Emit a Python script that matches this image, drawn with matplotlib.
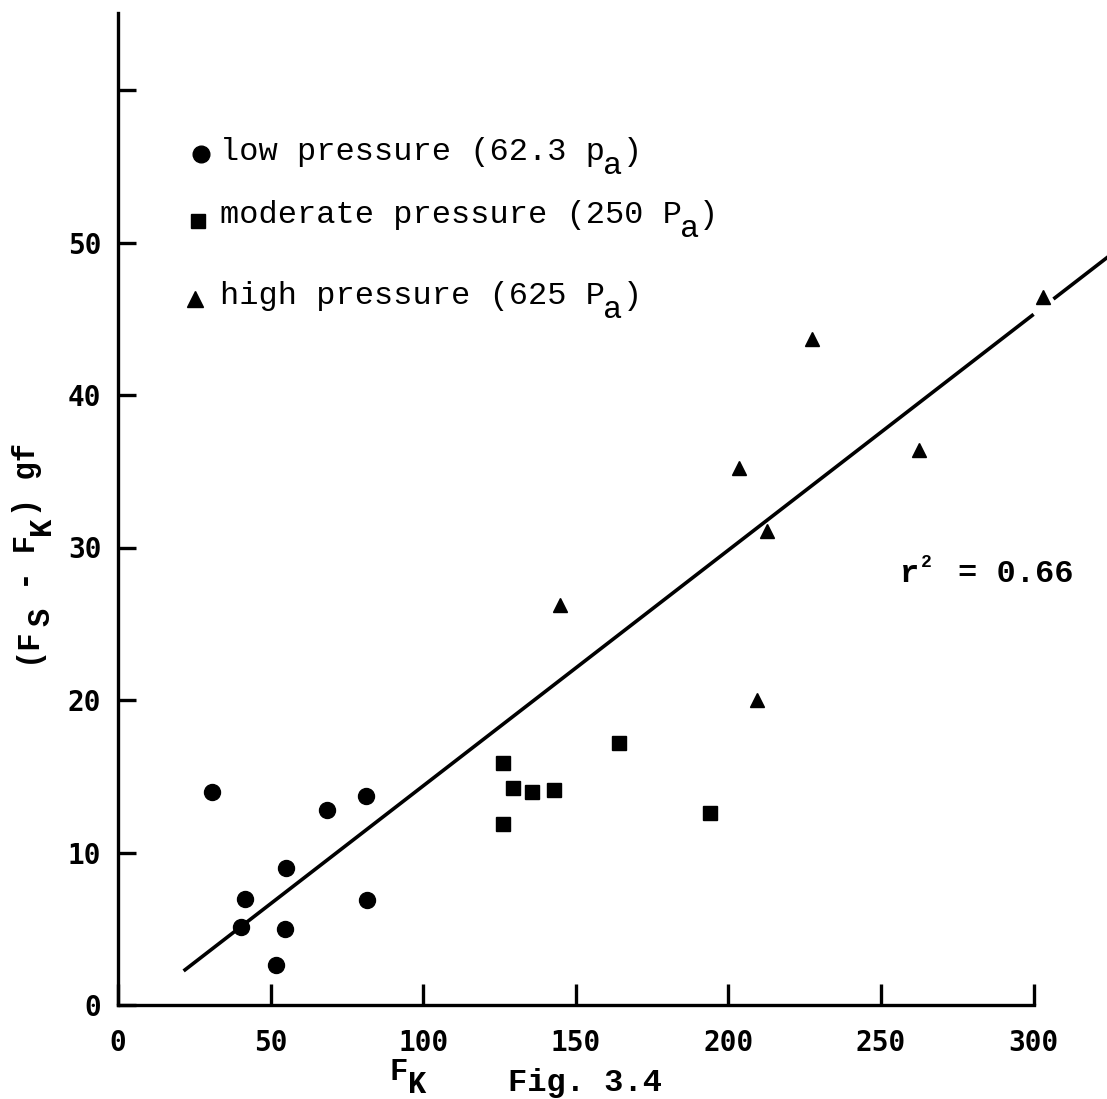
import matplotlib
matplotlib.use("Agg")
import matplotlib.pyplot as plt
import matplotlib.transforms as mtransforms
import numpy as np

# Data
low_x = [30.8, 41.6, 40.3, 55.1, 54.8, 51.8, 68.5, 81.3, 81.6]
low_y = [14.0, 6.95, 5.1, 9.0, 5.0, 2.6, 12.8, 13.7, 6.9]
mod_x = [126.2, 126.2, 129.5, 135.7, 143.0, 164.0, 194.1]
mod_y = [15.9, 11.9, 14.2, 14.0, 14.1, 17.2, 12.6]
high_x = [144.9, 203.6, 227.5, 212.5, 209.5, 262.6, 303.0]
high_y = [26.2, 35.2, 43.7, 31.1, 20.0, 36.4, 46.4]
fit_slope = 0.1546
fit_intercept = -1.09
fit_x_seg1 = [21.5, 300.0]
fit_x_seg2 = [306.5, 325.0]
x_ticks = [0, 50, 100, 150, 200, 250, 300]
y_ticks = [0, 10, 20, 30, 40, 50, 60]
y_ticklabels = ['0', '10', '20', '30', '40', '50', '']
# legend texts: (text before subscript, subscript, text after)
legend_entries = [('low pressure (62.3 p', 'a', ')'),
                  ('moderate pressure (250 P', 'a', ')'),
                  ('high pressure (625 P', 'a', ')')]
r2_text = ('r', '2', '= 0.66')

W, H = 1107, 1099
fig = plt.figure(figsize=(W / 100, H / 100), dpi=100)
x0px, x1px = 118, 1107
y0px, y1px = 1005, 13
ax = fig.add_axes([x0px / W, 1 - y0px / H, (x1px - x0px) / W, (y0px - y1px) / H])
ax.set_xlim(0, (x1px - x0px) / 3.052)
ax.set_ylim(0, (y0px - y1px) / 15.25)

mono = 'Liberation Mono'
tickfont = 'DejaVu Sans Mono'


def fx(px):
    return px / W


def fy(py):
    return 1 - py / H


def piece_text(x, y, pieces, fs, weight='normal', rotation=0):
    """Monospace pieces: (text, char index, drop in points, fontsize or None)."""
    for txt, idx, drop, pfs in pieces:
        adv = idx * 0.6 * fs
        off = (adv, -drop) if rotation == 0 else (drop, adv)
        tr = fig.transFigure + mtransforms.ScaledTranslation(
            off[0] / 72, off[1] / 72, fig.dpi_scale_trans)
        fig.text(x, y, txt, fontfamily=mono, fontsize=pfs or fs,
                 fontweight=weight, ha='left', va='baseline',
                 rotation=rotation, rotation_mode='anchor', transform=tr)


ax.plot(low_x, low_y, 'o', color='black', markersize=11.5, linestyle='none')
ax.plot(mod_x, mod_y, 's', color='black', markersize=9.5, linestyle='none')
ax.plot(high_x, high_y, '^', color='black', markersize=10, linestyle='none')

for seg in (fit_x_seg1, fit_x_seg2):
    sx = np.array(seg)
    ax.plot(sx, fit_slope * sx + fit_intercept, color='black', lw=2.6,
            solid_capstyle='butt', clip_on=False)

for s in ('top', 'right'):
    ax.spines[s].set_visible(False)
ax.spines['left'].set_linewidth(2.4)
ax.spines['bottom'].set_linewidth(2.4)
ax.spines['bottom'].set_bounds(0, 300)

ax.set_xticks(x_ticks)
ax.set_xticklabels([str(v) for v in x_ticks], fontfamily=tickfont,
                   fontsize=20, fontweight='bold')
ax.set_yticks(y_ticks)
ax.set_yticklabels(y_ticklabels, fontfamily=tickfont, fontsize=20,
                   fontweight='bold')
ax.tick_params(axis='x', direction='in', length=15, width=2.4, pad=17)
ax.tick_params(axis='y', direction='in', length=13, width=2.4, pad=12)

# legend (manual)
leg_base_px = [160, 223, 304]
leg_marker_px = [(201, 154), (198, 221), (195, 299)]
leg_markers = ['o', 's', '^']
leg_msize = [12, 10, 12]
for (pre, sub, post), by, (mxp, myp), mk, ms in zip(legend_entries, leg_base_px,
                                                    leg_marker_px, leg_markers,
                                                    leg_msize):
    fig.lines.append(matplotlib.lines.Line2D([fx(mxp)], [fy(myp)], marker=mk,
                                             color='black', markersize=ms,
                                             linestyle='none',
                                             transform=fig.transFigure))
    n = len(pre)
    piece_text(fx(220), fy(by),
               [(pre, 0, 0, None), (sub, n, 10, None), (post, n + 1, 0, None)],
               23)

# r^2 annotation
piece_text(fx(900), fy(582),
           [(r2_text[0], 0, 0, None), (r2_text[1], 1.1, -11, 13),
            (r2_text[2], 3, 0, None)], 23, weight='bold')

# axis labels
piece_text(fx(390), fy(1080), [('F', 0, 0, None), ('K', 1, 9.4, None)], 22,
           weight='bold')
piece_text(fx(35), fy(663),
           [('(F', 0, 0, None), ('S', 2, 10.5, None), (' - F', 3, 0, None),
            ('K', 7, 10.5, None), (') gf', 8, 0, None)], 22,
           weight='bold', rotation=90)

fig.text(fx(508), fy(1098), 'Fig. 3.4', fontfamily=mono, fontsize=23,
         fontweight='bold', va='bottom', ha='left')

fig.savefig('out.png', dpi=100)
